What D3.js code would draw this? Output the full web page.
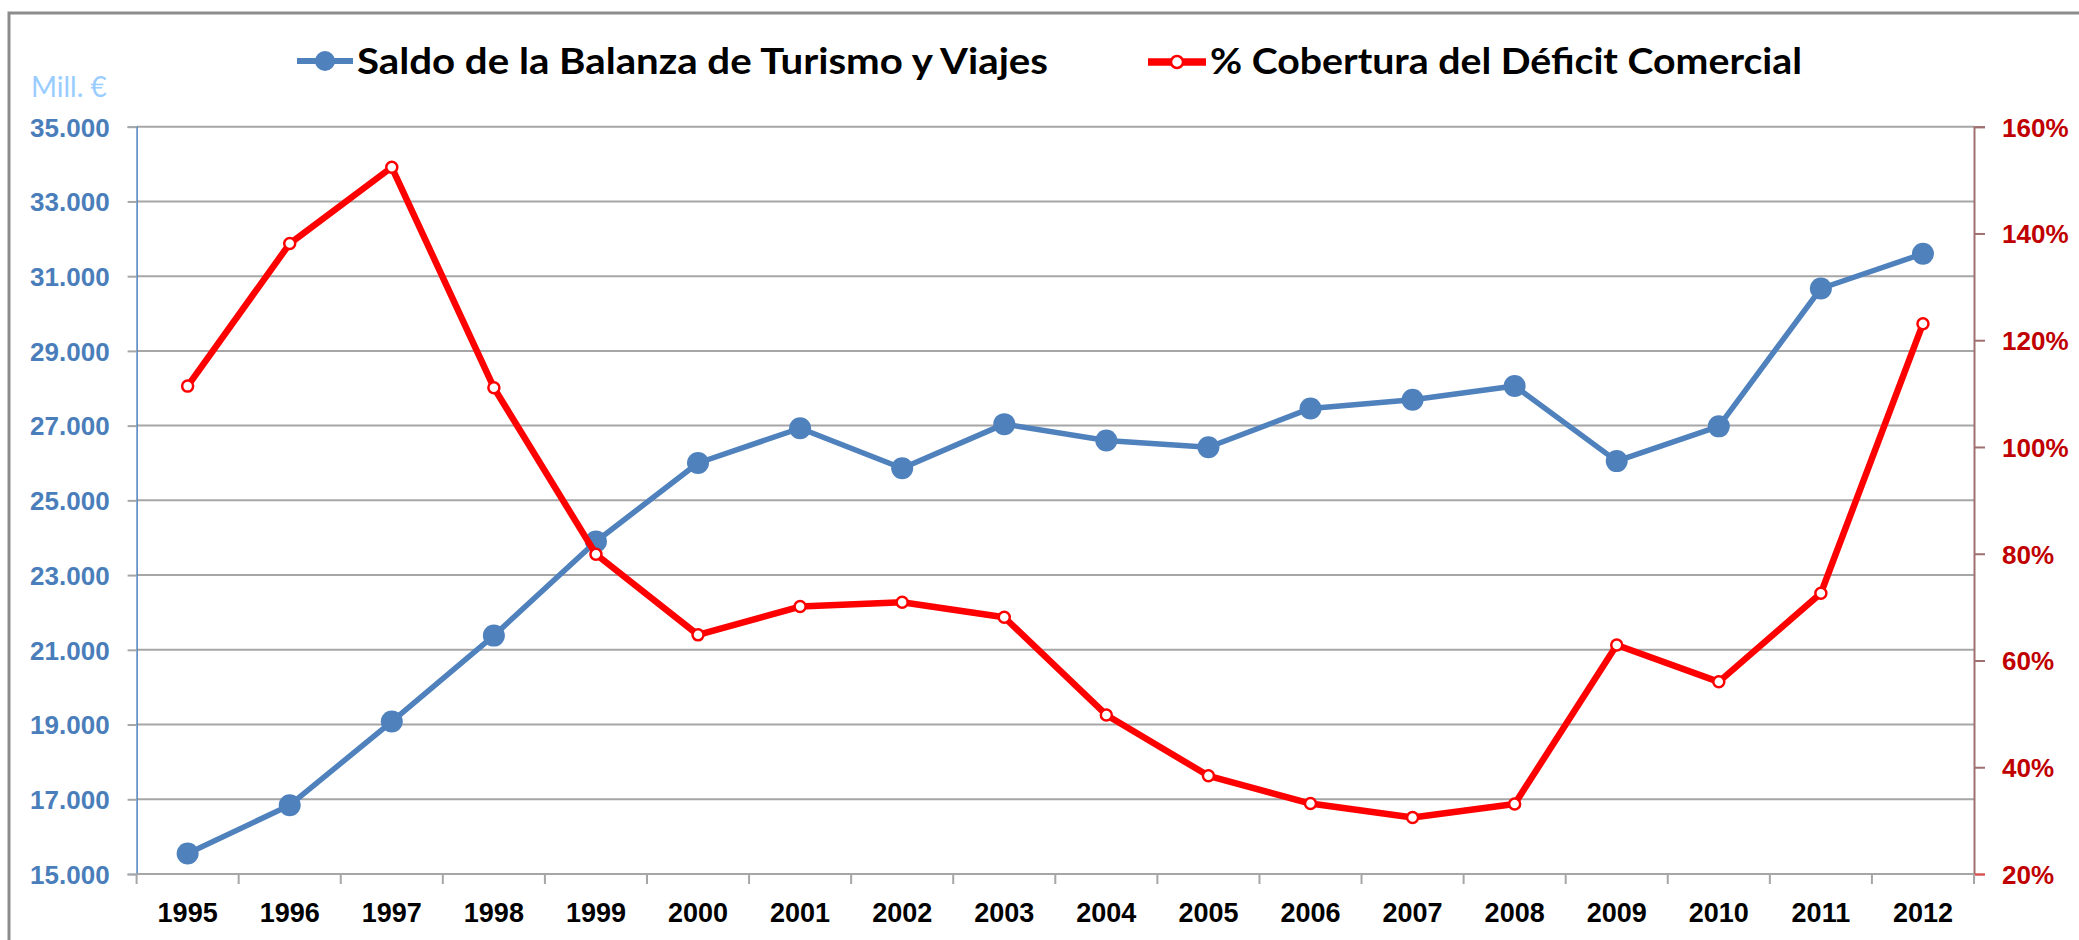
<!DOCTYPE html>
<html>
<head>
<meta charset="utf-8">
<style>
body { margin: 0; background: #fff; }
svg { display: block; font-family: Lato, 'Open Sans', sans-serif; }
.axisL text { font-size: 26px; font-weight: bold; fill: #4a7ebb; }
.axisR text { font-size: 26px; font-weight: bold; fill: #c00000; }
.axisX text { font-size: 27px; font-weight: bold; fill: #000; }
.legend text { font-size: 36px; font-weight: bold; fill: #000; }
</style>
</head>
<body>
<div id="chart"></div>
<script src="https://cdn.jsdelivr.net/npm/d3@7"></script>
<script>

const years = ['1995', '1996', '1997', '1998', '1999', '2000', '2001', '2002', '2003',
               '2004', '2005', '2006', '2007', '2008', '2009', '2010', '2011', '2012'];

// Saldo de la Balanza de Turismo y Viajes (Mill. €)
const saldo = [15550, 16840, 19080, 21380, 23900, 26000, 26930, 25860, 27040,
               26600, 26420, 27460, 27690, 28060, 26050, 26980, 30670, 31600];

// % Cobertura del Déficit Comercial
const cobertura = [111.4, 138.1, 152.4, 111.1, 79.9, 64.8, 70.1, 70.9, 68.1,
                   49.8, 38.4, 33.2, 30.6, 33.1, 62.9, 56.0, 72.6, 123.1];

const leftTicks = [15000, 17000, 19000, 21000, 23000, 25000, 27000, 29000, 31000, 33000, 35000];
const rightTicks = [20, 40, 60, 80, 100, 120, 140, 160];

const seriesNames = ['Saldo de la Balanza de Turismo y Viajes', '% Cobertura del Déficit Comercial'];
const unitLabel = 'Mill. €';

const W = 2079, H = 940;
const plot = {left: 136.6, right: 1974, top: 126.7, bottom: 874};

const blue = '#4f81bd', red = '#ff0000';

const esLocale = d3.formatLocale({decimal: ',', thousands: '.', grouping: [3], currency: ['', '€']});
const fmtThousands = esLocale.format(',d');

const svg = d3.select('#chart').append('svg')
    .attr('width', W)
    .attr('height', H);

// chart border (only top and left edges fall inside the picture)
svg.append('rect')
    .attr('x', 9).attr('y', 13)
    .attr('width', 2300).attr('height', 1200)
    .attr('fill', 'none')
    .attr('stroke', '#8c8c8c')
    .attr('stroke-width', 3);

const x = d3.scaleBand()
    .domain(years)
    .range([plot.left, plot.right]);

const yL = d3.scaleLinear()
    .domain([15000, 35000])
    .range([plot.bottom, plot.top]);

const yR = d3.scaleLinear()
    .domain([20, 160])
    .range([plot.bottom, plot.top]);

// gridlines
svg.append('g')
    .selectAll('line')
    .data(leftTicks.slice(1))
    .join('line')
        .attr('x1', plot.left).attr('x2', plot.right)
        .attr('y1', d => yL(d)).attr('y2', d => yL(d))
        .attr('stroke', '#a6a6a6')
        .attr('stroke-width', 2);

// left axis
const gL = svg.append('g')
    .attr('class', 'axisL')
    .attr('transform', 'translate(' + plot.left + ',0)')
    .call(d3.axisLeft(yL).tickValues(leftTicks).tickFormat(fmtThousands).tickSize(9).tickPadding(18));
gL.select('.domain').attr('stroke', blue).attr('stroke-width', 1.5);
gL.selectAll('.tick line').attr('stroke', '#a6a6a6').attr('stroke-width', 2);
gL.selectAll('.tick text').attr('dy', '0.36em');

// right axis
const gR = svg.append('g')
    .attr('class', 'axisR')
    .attr('transform', 'translate(' + plot.right + ',0)')
    .call(d3.axisRight(yR).tickValues(rightTicks).tickFormat(d => d + '%').tickSize(11).tickPadding(17));
gR.select('.domain').attr('stroke', '#a07070').attr('stroke-width', 2);
gR.selectAll('.tick line').attr('stroke', '#a07070').attr('stroke-width', 2);
gR.selectAll('.tick').filter(d => d === 20).select('line').attr('stroke', '#e05050');
gR.selectAll('.tick text').attr('dy', '0.36em');

// x axis: labels at category centres, ticks at category boundaries
const gX = svg.append('g')
    .attr('class', 'axisX')
    .attr('transform', 'translate(0,' + plot.bottom + ')')
    .call(d3.axisBottom(x).tickSize(0).tickPadding(30));
gX.select('.domain').remove();
gX.selectAll('.tick text').attr('dy', '0.36em').attr('y', 38);

const bounds = years.map(d => x(d)).concat([x.range()[1]]);
svg.append('g')
    .selectAll('line')
    .data(bounds)
    .join('line')
        .attr('x1', d => d).attr('x2', d => d)
        .attr('y1', plot.bottom).attr('y2', plot.bottom + 10)
        .attr('stroke', '#a6a6a6')
        .attr('stroke-width', 2);
svg.append('line')
    .attr('x1', plot.left).attr('x2', plot.right)
    .attr('y1', plot.bottom).attr('y2', plot.bottom)
    .attr('stroke', '#a6a6a6')
    .attr('stroke-width', 2);

// unit label
svg.append('text')
    .attr('x', 31).attr('y', 97)
    .attr('font-size', 28)
    .attr('fill', '#99ccff')
    .text(unitLabel);

const cx = d => x(d) + x.bandwidth() / 2;

// blue series
svg.append('path')
    .datum(saldo)
    .attr('fill', 'none')
    .attr('stroke', blue)
    .attr('stroke-width', 5.5)
    .attr('stroke-linejoin', 'round')
    .attr('d', d3.line().x((d, i) => cx(years[i])).y(d => yL(d)));

svg.append('g')
    .selectAll('circle')
    .data(saldo)
    .join('circle')
        .attr('cx', (d, i) => cx(years[i]))
        .attr('cy', d => yL(d))
        .attr('r', 11)
        .attr('fill', blue);

// red series
svg.append('path')
    .datum(cobertura)
    .attr('fill', 'none')
    .attr('stroke', red)
    .attr('stroke-width', 6.5)
    .attr('stroke-linejoin', 'round')
    .attr('d', d3.line().x((d, i) => cx(years[i])).y(d => yR(d)));

svg.append('g')
    .selectAll('circle')
    .data(cobertura)
    .join('circle')
        .attr('cx', (d, i) => cx(years[i]))
        .attr('cy', d => yR(d))
        .attr('r', 5.5)
        .attr('fill', '#fff')
        .attr('stroke', red)
        .attr('stroke-width', 2.5);

// legend
const legend = svg.append('g').attr('class', 'legend');

const lg1 = legend.append('g');
lg1.append('line')
    .attr('x1', 297).attr('x2', 353).attr('y1', 61).attr('y2', 61)
    .attr('stroke', blue).attr('stroke-width', 6);
lg1.append('circle')
    .attr('cx', 325).attr('cy', 61).attr('r', 10).attr('fill', blue);
lg1.append('text')
    .attr('x', 357).attr('y', 74)
    .attr('textLength', 691).attr('lengthAdjust', 'spacingAndGlyphs')
    .text(seriesNames[0]);

const lg2 = legend.append('g');
lg2.append('line')
    .attr('x1', 1148).attr('x2', 1206).attr('y1', 62).attr('y2', 62)
    .attr('stroke', red).attr('stroke-width', 7.5);
lg2.append('circle')
    .attr('cx', 1177).attr('cy', 62).attr('r', 6)
    .attr('fill', '#fff').attr('stroke', red).attr('stroke-width', 2.5);
lg2.append('text')
    .attr('x', 1210).attr('y', 74)
    .attr('textLength', 592).attr('lengthAdjust', 'spacingAndGlyphs')
    .text(seriesNames[1]);

</script>
</body>
</html>
